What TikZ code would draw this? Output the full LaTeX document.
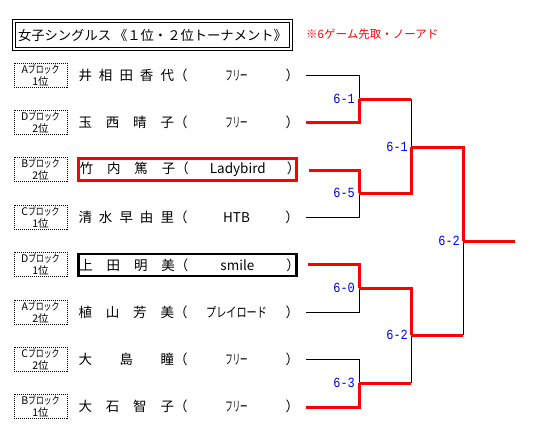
\documentclass[tikz,border=0pt]{standalone}
\usepackage{fontspec}
\usepackage{graphicx}
\setmainfont{Noto Sans CJK JP}
\newfontfamily\scorefont{Liberation Mono}
\usetikzlibrary{positioning}

\definecolor{winred}{RGB}{255,0,0}
\definecolor{scoreblue}{RGB}{0,0,255}

% one player row: spread name, (club)
\newcommand{\plrow}[2]{\hbox to 95.5pt{#1}（\hbox to 98pt{\hfil #2\hfil}\makebox[9pt][l]{）}}
% narrow kana and narrow score digits
\newcommand{\hk}[2][0.55]{\scalebox{#1}[1]{#2}}
\newcommand{\scr}[1]{\scalebox{0.85}[1]{#1}}

\begin{document}
\begin{tikzpicture}[x=1pt, y=-1pt,
	blk/.style={draw, line width=0.8pt, dash pattern=on 1pt off 1pt, minimum width=53pt, minimum height=24pt, inner sep=0pt, align=center, font=\fontsize{10.5}{12}\selectfont},
	plr/.style={anchor=west, inner sep=1pt, minimum height=22pt, font=\fontsize{13.5}{16}\selectfont},
	win/.style={draw=winred, line width=3pt},
	lose/.style={draw=black, line width=1pt},
	score/.style={text=scoreblue, inner sep=0pt, font=\scorefont\fontsize{14}{15}\selectfont}]
	\useasboundingbox (0,0) rectangle (549,439);

	\node[draw, double, double distance=2pt, line width=1pt, minimum width=277pt, minimum height=28pt, inner sep=0pt, font=\fontsize{13.3}{15}\selectfont] (title) at (152.5,35) {女子シングルス 《１位・２位トーナメント》};
	\node[anchor=west, inner sep=0pt, text=winred, font=\fontsize{11.5}{13}\selectfont] (note) at (306,34) {※6ゲーム先取・ノーアド};

	\node[blk] (b1) at (40.5,75) {A\hk[0.75]{ブロック}\\1位};
	\node[blk] (b2) at (40.5,122) {D\hk[0.75]{ブロック}\\2位};
	\node[blk] (b3) at (40.5,169) {B\hk[0.75]{ブロック}\\2位};
	\node[blk] (b4) at (40.5,217) {C\hk[0.75]{ブロック}\\1位};
	\node[blk] (b5) at (40.5,264) {D\hk[0.75]{ブロック}\\1位};
	\node[blk] (b6) at (40.5,312) {A\hk[0.75]{ブロック}\\2位};
	\node[blk] (b7) at (40.5,359) {C\hk[0.75]{ブロック}\\2位};
	\node[blk] (b8) at (40.5,406) {B\hk[0.75]{ブロック}\\1位};

	\node[plr] (p1) at (77.3,75) {\plrow{井\hfill 相\hfill 田\hfill 香\hfill 代}{\hk{フリー}}};
	\node[plr] (p2) at (77.3,122) {\plrow{玉\hfill 西\hfill 晴\hfill 子}{\hk{フリー}}};
	\node[plr, draw=winred, line width=3pt] (p3) at (77.3,169.5) {\plrow{竹\hfill 内\hfill 篤\hfill 子}{Ladybird}};
	\node[plr] (p4) at (77.3,217) {\plrow{清\hfill 水\hfill 早\hfill 由\hfill 里}{HTB}};
	\node[plr, draw, line width=2.2pt] (p5) at (77.3,265) {\plrow{上\hfill 田\hfill 明\hfill 美}{smile}};
	\node[plr] (p6) at (77.3,312) {\plrow{植\hfill 山\hfill 芳\hfill 美}{\hk[0.75]{プレイロード}}};
	\node[plr] (p7) at (77.3,359) {\plrow{大\hfill 島\hfill 瞳}{\hk{フリー}}};
	\node[plr] (p8) at (77.3,406) {\plrow{大\hfill 石\hfill 智\hfill 子}{\hk{フリー}}};

	\coordinate (m1) at (359,99);
	\coordinate (m2) at (359,193);
	\coordinate (m3) at (359,288);
	\coordinate (m4) at (359,383);
	\coordinate (s1) at (411,147);
	\coordinate (s2) at (411,335);
	\coordinate (f) at (463,241);
	\coordinate (champ) at (515,241);

	\draw[lose] ([xshift=10.7pt]p1.east |- 0,75) -| (m1);
	\draw[lose] ([xshift=10.7pt]p4.east |- 0,217) -| (m2);
	\draw[lose] ([xshift=10.7pt]p6.east |- 0,312) -| (m3);
	\draw[lose] ([xshift=10.7pt]p7.east |- 0,359) -| (m4);
	\draw[lose] (m1 -| s1) -- (s1);
	\draw[lose] (m4 -| s2) -- (s2);
	\draw[lose] (s2 -| f) -- (f);

	\draw[win] ([xshift=10.7pt]p2.east |- 0,122) -| (m1);
	\draw[win] ([xshift=10.7pt]p3.east |- 0,170) -| (m2);
	\draw[win] ([xshift=10.7pt]p5.east |- 0,264) -| (m3);
	\draw[win] ([xshift=10.7pt]p8.east |- 0,407) -| (m4);
	\draw[win] (m1) -- (m1 -| s1);
	\draw[win] (m2) -| (s1);
	\draw[win] (m3) -| (s2);
	\draw[win] (m4) -- (m4 -| s2);
	\draw[win] (s1) -| (f);
	\draw[win] (s2) -- (s2 -| f);
	\draw[win] (f) -- (champ);

	\node[score, left=4pt of m1] (r1) {\scr{6-1}};
	\node[score, left=4pt of m2] (r2) {\scr{6-5}};
	\node[score, left=4pt of m3] (r3) {\scr{6-0}};
	\node[score, left=4pt of m4] (r4) {\scr{6-3}};
	\node[score, left=3pt of s1] (r5) {\scr{6-1}};
	\node[score, left=3pt of s2] (r6) {\scr{6-2}};
	\node[score, left=3pt of f] (r7) {\scr{6-2}};
\end{tikzpicture}
\end{document}
